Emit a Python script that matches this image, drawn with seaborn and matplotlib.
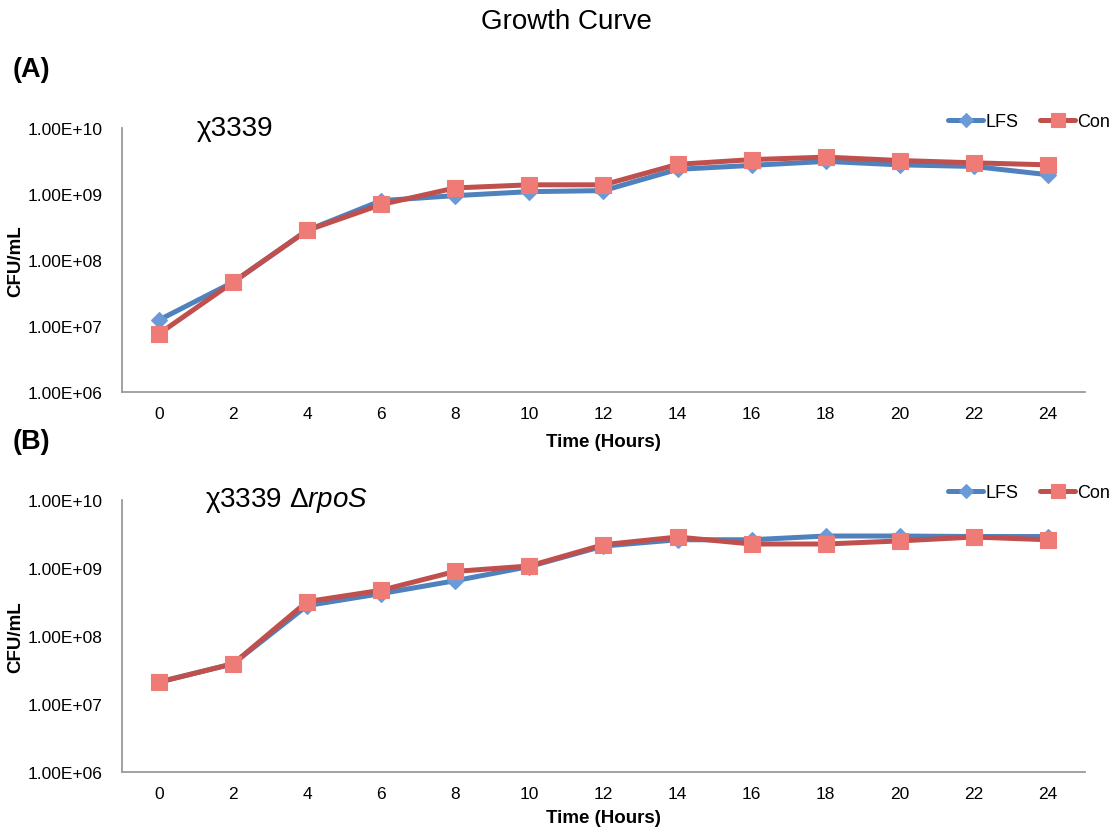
import numpy as np
import pandas as pd
import matplotlib
matplotlib.use("Agg")
import matplotlib.pyplot as plt
import matplotlib.colors as mcolors
from matplotlib.ticker import FixedLocator, FuncFormatter, NullLocator
import seaborn as sns

# Sampling times (hours)
hours = [0, 2, 4, 6, 8, 10, 12, 14, 16, 18, 20, 22, 24]

# Panel A: chi3339 (CFU/mL)
a_lfs = [1.23e7, 4.6e7, 2.8e8, 7.9e8, 9.4e8, 1.08e9, 1.12e9, 2.35e9, 2.7e9, 3.1e9, 2.75e9, 2.6e9, 1.95e9]
a_con = [7.6e6, 4.6e7, 2.8e8, 6.9e8, 1.23e9, 1.37e9, 1.37e9, 2.8e9, 3.3e9, 3.6e9, 3.2e9, 2.95e9, 2.75e9]

# Panel B: chi3339 delta-rpoS (CFU/mL)
b_lfs = [2.1e7, 3.9e7, 2.8e8, 4.2e8, 6.5e8, 1.05e9, 2.1e9, 2.6e9, 2.6e9, 2.95e9, 2.95e9, 2.9e9, 2.9e9]
b_con = [2.1e7, 3.9e7, 3.2e8, 4.7e8, 8.9e8, 1.07e9, 2.2e9, 2.85e9, 2.25e9, 2.25e9, 2.5e9, 2.85e9, 2.6e9]

series_names = ["LFS", "Con"]
y_ticks = [1e6, 1e7, 1e8, 1e9, 1e10]

sns.set_theme(style="white")
plt.rcParams["font.family"] = ["Liberation Sans", "DejaVu Sans"]
plt.rcParams["mathtext.fontset"] = "custom"
plt.rcParams["mathtext.it"] = "Liberation Sans:italic"
plt.rcParams["mathtext.rm"] = "Liberation Sans"
for key in ["text.color", "axes.labelcolor", "xtick.color", "ytick.color"]:
    plt.rcParams[key] = "black"

palette = {"LFS": "#4F81BD", "Con": "#C0504D"}
markers = {"LFS": "D", "Con": "s"}
face = {"LFS": "#6A9BD8", "Con": "#EE7B76"}
msize = {"LFS": 8.5, "Con": 11.5}


def long_frame(lfs, con):
    return pd.DataFrame({
        "Time": hours * 2,
        "CFU": lfs + con,
        "Series": ["LFS"] * len(hours) + ["Con"] * len(hours),
    })


def series_of(line):
    c = mcolors.to_hex(line.get_color())
    for name in series_names:
        if c == mcolors.to_hex(palette[name]):
            return name
    return None


fig = plt.figure(figsize=(11.12, 8.29), dpi=100)
ax_a = fig.add_axes([0.1097, 0.526, 0.8660, 0.3186])
ax_b = fig.add_axes([0.1097, 0.0676, 0.8660, 0.3281])

panels = [(ax_a, long_frame(a_lfs, a_con), "χ3339", 0.078, 1.0, 1.024, 8.5),
          (ax_b, long_frame(b_lfs, b_con), "χ3339 Δ$\\it{rpoS}$", 0.086, 1.0, 1.026, 6.0)]

for ax, df, strain, sx, sy, ly, xpad in panels:
    sns.lineplot(data=df, x="Time", y="CFU", hue="Series", style="Series",
                 hue_order=series_names, style_order=series_names,
                 palette=palette, markers=markers, dashes=False,
                 linewidth=3.6, ax=ax, legend=True)
    for line in ax.get_lines():
        name = series_of(line)
        if name:
            line.set_markerfacecolor(face[name])
            line.set_markeredgecolor(face[name])
            line.set_markersize(msize[name])
            line.set_markeredgewidth(0.8)
    ax.set_yscale("log")
    ax.set_ylim(1e6, 1e10)
    ax.set_xlim(-1, 25)
    ax.yaxis.set_major_locator(FixedLocator(y_ticks))
    ax.yaxis.set_minor_locator(NullLocator())
    ax.yaxis.set_major_formatter(FuncFormatter(lambda v, p: f"{v:.2E}"))
    ax.set_xticks(hours)
    ax.tick_params(axis="both", length=0, labelsize=12.5)
    ax.tick_params(axis="y", pad=14)
    ax.tick_params(axis="x", pad=10)
    for s in ["top", "right"]:
        ax.spines[s].set_visible(False)
    for s in ["left", "bottom"]:
        ax.spines[s].set_color("#9a9a9a")
        ax.spines[s].set_linewidth(1.3)
    ax.set_xlabel("Time (Hours)", fontsize=13.5, fontweight="bold", labelpad=xpad)
    ax.set_ylabel("CFU/mL", fontsize=13.5, fontweight="bold")
    ax.yaxis.set_label_coords(-0.1015, 0.5)
    ax.text(sx, sy, strain, transform=ax.transAxes, fontsize=20,
            ha="left", va="center")
    handles, labels = ax.get_legend_handles_labels()
    for h in handles:
        name = series_of(h)
        if name:
            h.set_markerfacecolor(face[name])
            h.set_markeredgecolor(face[name])
            h.set_markersize(msize[name] - 1.5)
            h.set_linewidth(3.6)
    ax.legend(handles, labels, loc="center left", bbox_to_anchor=(0.858, ly),
              ncol=2, frameon=False, fontsize=13, handlelength=1.95,
              handletextpad=0.1, columnspacing=1.2, borderpad=0,
              borderaxespad=0)

fig.text(0.509, 0.973, "Growth Curve", ha="center", va="center", fontsize=20)
fig.text(0.011, 0.916, "(A)", ha="left", va="center", fontsize=19.5, fontweight="bold")
fig.text(0.011, 0.467, "(B)", ha="left", va="center", fontsize=19.5, fontweight="bold")

fig.savefig("out.png", dpi=100)
